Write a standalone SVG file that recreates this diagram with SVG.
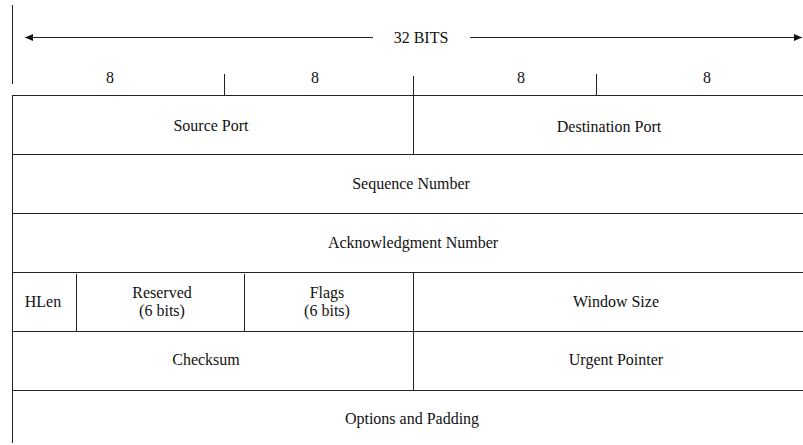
<svg xmlns="http://www.w3.org/2000/svg" width="803" height="445" viewBox="0 0 803 445">
<style>
.ln{stroke:#222;stroke-width:1;fill:none}
.t{font-family:'Liberation Serif','Times New Roman',serif;font-size:16px;fill:#111;text-anchor:middle}
</style>
<defs>
<marker id="ah" viewBox="0 0 8 8" refX="8" refY="4" markerWidth="8" markerHeight="8" markerUnits="userSpaceOnUse" orient="auto-start-reverse">
<path d="M0,0.5 L8,4 L0,7.5 Z" fill="#111"/>
</marker>
</defs>
<rect width="803" height="445" fill="#fff"/>
<g id="connectors">
<line class="ln" x1="12.5" y1="5" x2="12.5" y2="84"/>
<line class="ln" x1="25" y1="37.5" x2="373" y2="37.5" marker-start="url(#ah)"/>
<line class="ln" x1="470" y1="37.5" x2="802" y2="37.5" marker-end="url(#ah)"/>
<line class="ln" x1="224.5" y1="74" x2="224.5" y2="96"/>
<line class="ln" x1="596.5" y1="74" x2="596.5" y2="96"/>
<line class="ln" x1="413.5" y1="76" x2="413.5" y2="154.5"/>
<line class="ln" x1="413.5" y1="272.5" x2="413.5" y2="390"/>
</g>
<g id="header">
<text class="t" x="421" y="42.5">32 BITS</text>
<text class="t" x="110" y="82.5">8</text>
<text class="t" x="315" y="82.5">8</text>
<text class="t" x="521" y="82.5">8</text>
<text class="t" x="707" y="82.5">8</text>
</g>
<g id="table">
<line class="ln" x1="12.5" y1="95" x2="12.5" y2="443"/>
<line class="ln" x1="12" y1="95.5" x2="803" y2="95.5"/>
<line class="ln" x1="12" y1="154.5" x2="803" y2="154.5"/>
<line class="ln" x1="12" y1="213.5" x2="803" y2="213.5"/>
<line class="ln" x1="12" y1="272.5" x2="803" y2="272.5"/>
<line class="ln" x1="12" y1="331.5" x2="803" y2="331.5"/>
<line class="ln" x1="12" y1="390.5" x2="803" y2="390.5"/>
<line class="ln" x1="76.5" y1="274" x2="76.5" y2="332"/>
<line class="ln" x1="244.5" y1="274" x2="244.5" y2="332"/>
</g>
<g id="source-port"><text class="t" x="211" y="131">Source Port</text></g>
<g id="destination-port"><text class="t" x="609" y="132">Destination Port</text></g>
<g id="sequence-number"><text class="t" x="411" y="189">Sequence Number</text></g>
<g id="ack-number"><text class="t" x="413" y="248">Acknowledgment Number</text></g>
<g id="hlen"><text class="t" x="43" y="307">HLen</text></g>
<g id="reserved"><text class="t" x="162" y="298">Reserved</text><text class="t" x="162" y="316">(6 bits)</text></g>
<g id="flags"><text class="t" x="327" y="298">Flags</text><text class="t" x="327" y="316">(6 bits)</text></g>
<g id="window-size"><text class="t" x="616" y="307">Window Size</text></g>
<g id="checksum"><text class="t" x="206" y="365">Checksum</text></g>
<g id="urgent-pointer"><text class="t" x="616" y="365">Urgent Pointer</text></g>
<g id="options"><text class="t" x="412" y="424">Options and Padding</text></g>
</svg>
